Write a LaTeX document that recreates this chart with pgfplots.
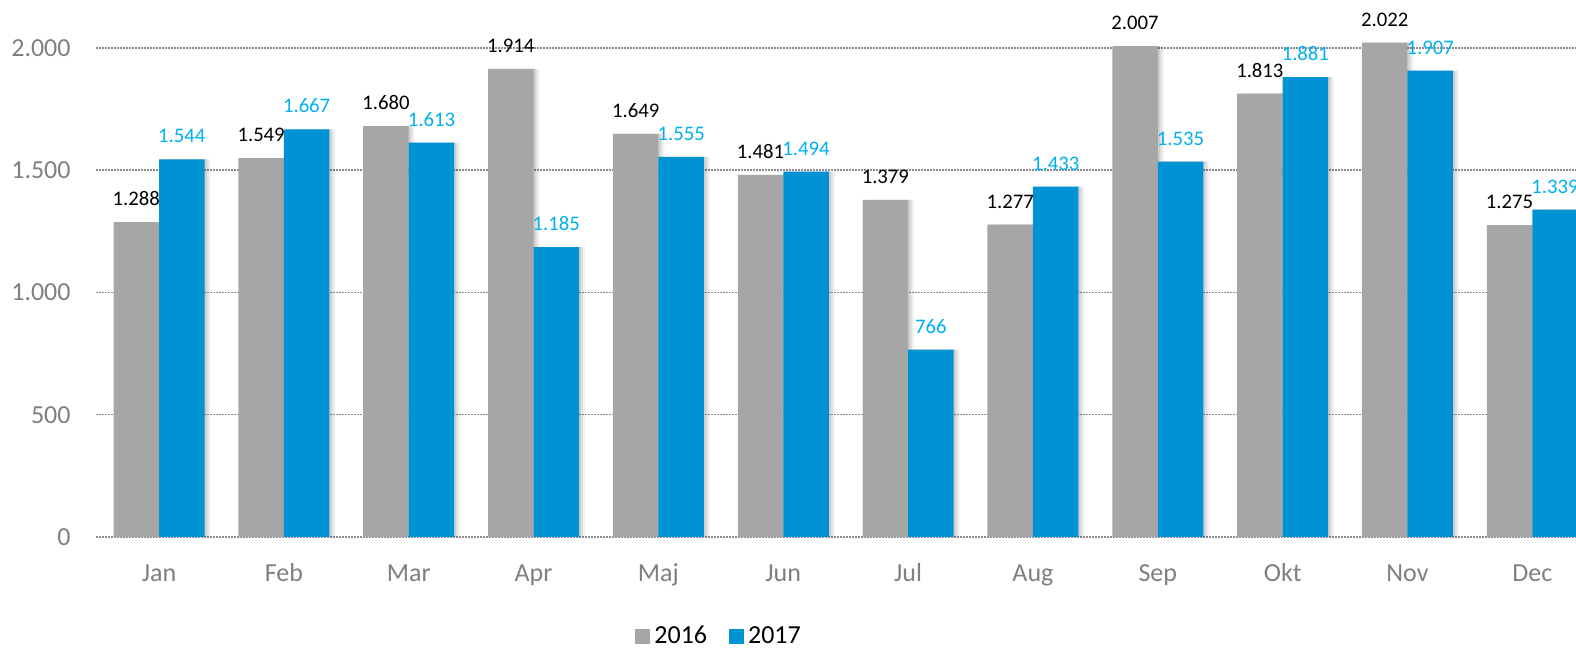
\documentclass[border=0pt]{standalone}
\usepackage{fontspec}
\setmainfont{Carlito}
\usepackage{pgfplots}
\usepackage{pgfplotstable}
\pgfplotsset{compat=1.18}
\definecolor{barGray}{HTML}{A6A6A6}
\definecolor{barBlue}{HTML}{0093D3}
\definecolor{lblBlue}{HTML}{00B0F0}
\definecolor{tickGray}{HTML}{7F7F7F}
\definecolor{gridGray}{HTML}{8C8C8C}
\pgfplotstableread{
x a b
0 1288 1544
1 1549 1667
2 1680 1613
3 1914 1185
4 1649 1555
5 1481 1494
6 1379 766
7 1277 1433
8 2007 1535
9 1813 1881
10 2022 1907
11 1275 1339
}\data
\begin{document}
\begin{tikzpicture}
\begin{axis}[
  at={(48pt,55.5pt)}, anchor=south west,
  scale only axis, width=740pt, height=256.75pt,
  xmin=-0.505, xmax=11.35, ymin=0, ymax=2100,
  ybar, bar width=22.75pt,
  xtick={0,...,11},
  xticklabels={Jan,Feb,Mar,Apr,Maj,Jun,Jul,Aug,Sep,Okt,Nov,Dec},
  ytick={0,500,1000,1500,2000},
  ymajorgrids,
  major grid style={gridGray, line width=0.75pt, dash pattern=on 0.75pt off 0.75pt},
  axis line style={draw=none}, major tick length=0pt,
  scaled y ticks=false,
  /pgf/number format/1000 sep={.},
  /pgf/number format/assume math mode=true,
  tick label style={font=\fontsize{13}{15}\selectfont, text=tickGray},
  yticklabel style={anchor=east, inner sep=0pt, xshift=-12.5pt},
  xticklabel style={anchor=base, inner sep=0pt, yshift=-22.5pt},
  nodes near coords style={font=\fontsize{10.35}{12}\selectfont, anchor=south, inner sep=0pt, yshift=8pt},
  legend style={draw=none, fill=none, at={(0.4217,-0.1938)}, anchor=center,
    legend columns=2, font=\fontsize{13}{15}\selectfont,
    /tikz/every even column/.append style={column sep=9pt}},
  legend image code/.code={\fill[#1] (-1.5pt,-3.75pt) rectangle (6pt,3.75pt);},
]
% soft shadows
\addplot[forget plot, fill=black, draw=none, opacity=0.09, bar shift=-10.375pt] table[x=x,y=a] {\data};
\addplot[forget plot, fill=black, draw=none, opacity=0.07, bar shift=-9.375pt] table[x=x,y=a] {\data};
\addplot[forget plot, fill=black, draw=none, opacity=0.05, bar shift=-8.375pt] table[x=x,y=a] {\data};
\addplot[forget plot, fill=black, draw=none, opacity=0.09, bar shift=12.375pt] table[x=x,y=b] {\data};
\addplot[forget plot, fill=black, draw=none, opacity=0.07, bar shift=13.375pt] table[x=x,y=b] {\data};
\addplot[forget plot, fill=black, draw=none, opacity=0.05, bar shift=14.375pt] table[x=x,y=b] {\data};
% bars
\addplot[fill=barGray, draw=none, bar shift=-11.375pt, nodes near coords,
  every node near coord/.append style={text=black}] table[x=x,y=a] {\data};
\addplot[fill=barBlue, draw=none, bar shift=11.375pt, nodes near coords,
  every node near coord/.append style={text=lblBlue}] table[x=x,y=b] {\data};
\legend{2016,2017}
\end{axis}
\pgfresetboundingbox
\path[use as bounding box] (0,0) rectangle (788pt,324pt);
\end{tikzpicture}
\end{document}
